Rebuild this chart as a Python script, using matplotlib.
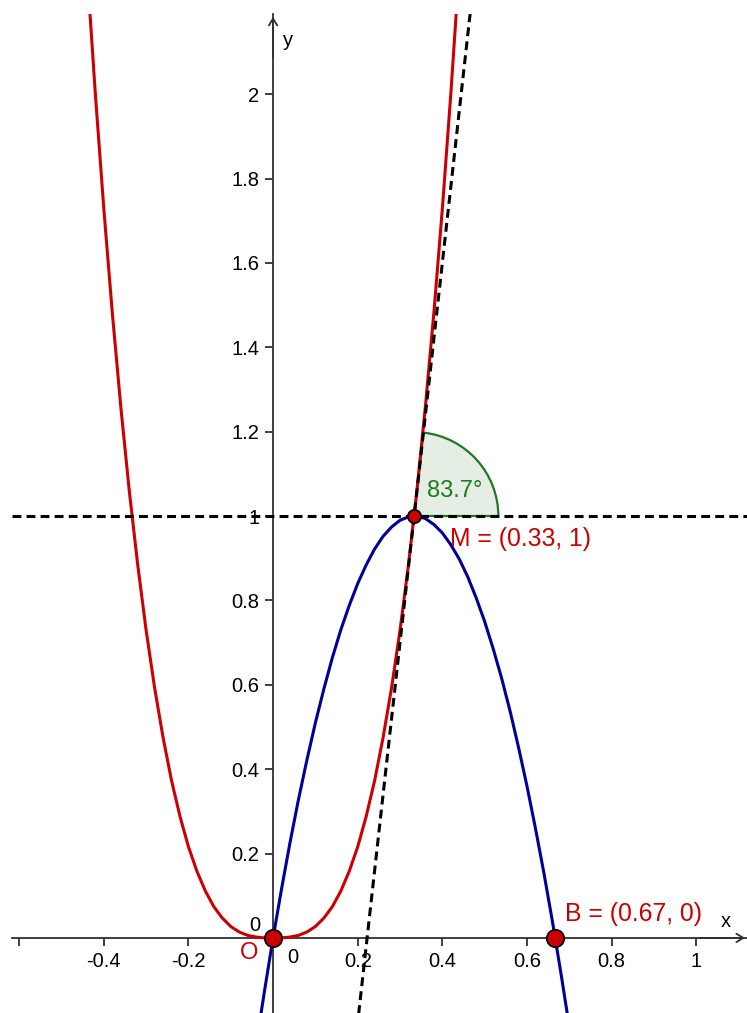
import matplotlib
matplotlib.use("Agg")
import matplotlib.pyplot as plt
from matplotlib.patches import Wedge

plt.rcParams['font.family'] = ['Liberation Sans', 'DejaVu Sans']

# red curve
red_x = [-0.44, -0.42, -0.40, -0.38, -0.36, -0.34, -0.32, -0.30, -0.28, -0.26, -0.24,
         -0.22, -0.20, -0.18, -0.16, -0.14, -0.12, -0.10, -0.08, -0.06, -0.04, -0.02,
         0.00, 0.02, 0.04, 0.06, 0.08, 0.10, 0.12, 0.14, 0.16, 0.18, 0.20, 0.22, 0.24,
         0.26, 0.28, 0.30, 0.32, 0.34, 0.36, 0.38, 0.40, 0.42, 0.44]
red_y = [2.300, 2.000, 1.728, 1.482, 1.260, 1.061, 0.885, 0.729, 0.593, 0.475, 0.373,
         0.288, 0.216, 0.158, 0.111, 0.074, 0.047, 0.027, 0.014, 0.006, 0.002, 0.000,
         0.000, 0.000, 0.002, 0.006, 0.014, 0.027, 0.047, 0.074, 0.111, 0.158, 0.216,
         0.288, 0.373, 0.475, 0.593, 0.729, 0.885, 1.061, 1.260, 1.482, 1.728, 2.000, 2.300]

# blue curve
blue_x = [-0.04, -0.02, 0.00, 0.02, 0.04, 0.06, 0.08, 0.10, 0.12, 0.14, 0.16, 0.18,
          0.20, 0.22, 0.24, 0.26, 0.28, 0.30, 0.32, 0.34, 0.36, 0.38, 0.40, 0.42,
          0.44, 0.46, 0.48, 0.50, 0.52, 0.54, 0.56, 0.58, 0.60, 0.62, 0.64, 0.66,
          0.68, 0.70]
blue_y = [-0.254, -0.124, 0.000, 0.116, 0.226, 0.328, 0.422, 0.510, 0.590, 0.664,
          0.730, 0.788, 0.840, 0.884, 0.922, 0.952, 0.974, 0.990, 0.998, 1.000, 0.994,
          0.980, 0.960, 0.932, 0.898, 0.856, 0.806, 0.750, 0.686, 0.616, 0.538, 0.452,
          0.360, 0.260, 0.154, 0.040, -0.082, -0.210]

# tangent line at M
tangent_x = [0.18, 0.48]
tangent_y = [-0.38, 2.32]
level_y = 1.0

# points
pt_names = ['O', 'M', 'B']
pt_x = [0.0, 1 / 3, 2 / 3]
pt_y = [0.0, 1.0, 0.0]
angle_deg = 83.66

x_ticks = [-0.6, -0.4, -0.2, 0.2, 0.4, 0.6, 0.8, 1.0]
x_labels = ['', '-0.4', '-0.2', '0.2', '0.4', '0.6', '0.8', '1']
y_ticks = [0.2, 0.4, 0.6, 0.8, 1.0, 1.2, 1.4, 1.6, 1.8, 2.0]
y_labels = ['0.2', '0.4', '0.6', '0.8', '1', '1.2', '1.4', '1.6', '1.8', '2']

RED = '#cc0000'
BLUE = '#000099'
GREEN = '#1e7a1e'
AXIS = '#303030'
LW = 2.2
DASH = (0, (2.9, 1.7))

fig = plt.figure(figsize=(7.47, 10.13), dpi=100)
ax = fig.add_axes([12 / 747, 0, 735 / 747, 999 / 1013])
ax.set_xlim(-0.617, 1.12)
ax.set_ylim(-0.178, 2.19)

# axes through the origin
for s in ['top', 'right']:
    ax.spines[s].set_visible(False)
ax.spines['left'].set_position(('data', 0))
ax.spines['bottom'].set_position(('data', 0))
for s in ['left', 'bottom']:
    ax.spines[s].set_color(AXIS)
    ax.spines[s].set_linewidth(1.3)
    ax.spines[s].set_zorder(1)
ax.set_xticks(x_ticks, x_labels)
ax.set_yticks(y_ticks, y_labels)
ax.tick_params(direction='out', length=6, width=1.3, color=AXIS, labelsize=14.5, pad=4)

ax.annotate('', xy=(0, 2.19), xytext=(0, 2.08),
            arrowprops=dict(arrowstyle='->,head_length=0.5,head_width=0.3', color=AXIS, lw=1.3),
            annotation_clip=False)
ax.annotate('', xy=(1.122, 0), xytext=(1.0, 0),
            arrowprops=dict(arrowstyle='->,head_length=0.5,head_width=0.3', color=AXIS, lw=1.3),
            annotation_clip=False)
ax.text(1.057, 0.026, 'x', fontsize=14.5)
ax.text(0.024, 2.114, 'y', fontsize=14.5)
ax.text(-0.031, 0.017, '0', fontsize=14.5, ha='right')
ax.text(0.033, -0.059, '0', fontsize=14.5)

# angle sector
wedge = Wedge((pt_x[1], pt_y[1]), 0.199, 0, angle_deg, facecolor='#e4eee4',
              edgecolor=GREEN, lw=1.6, zorder=1.5)
ax.add_patch(wedge)
ax.text(0.364, 1.046, f'{angle_deg:.1f}°', color=GREEN, fontsize=17, zorder=6)

ax.plot(red_x, red_y, color=RED, lw=LW, zorder=2)
ax.plot(blue_x, blue_y, color=BLUE, lw=LW, zorder=2)
ax.plot(tangent_x, tangent_y, color='black', lw=LW, ls=DASH, zorder=3)
ax.axhline(level_y, color='black', lw=LW, ls=DASH, zorder=3)

sizes = [12.5, 9.5, 12.5]
for name, px, py, ms in zip(pt_names, pt_x, pt_y, sizes):
    ax.plot(px, py, 'o', ms=ms, color=RED, mec='black', mew=1.3, zorder=5, clip_on=False)

ax.text(-0.078, -0.050, 'O', color=RED, fontsize=17)
ax.text(0.418, 0.928, f'M = ({pt_x[1]:.2f}, {pt_y[1]:.0f})', color=RED, fontsize=17.8)
ax.text(0.690, 0.040, f'B = ({pt_x[2]:.2f}, {pt_y[2]:.0f})', color=RED, fontsize=17.8)

fig.savefig('out.png', dpi=100)
